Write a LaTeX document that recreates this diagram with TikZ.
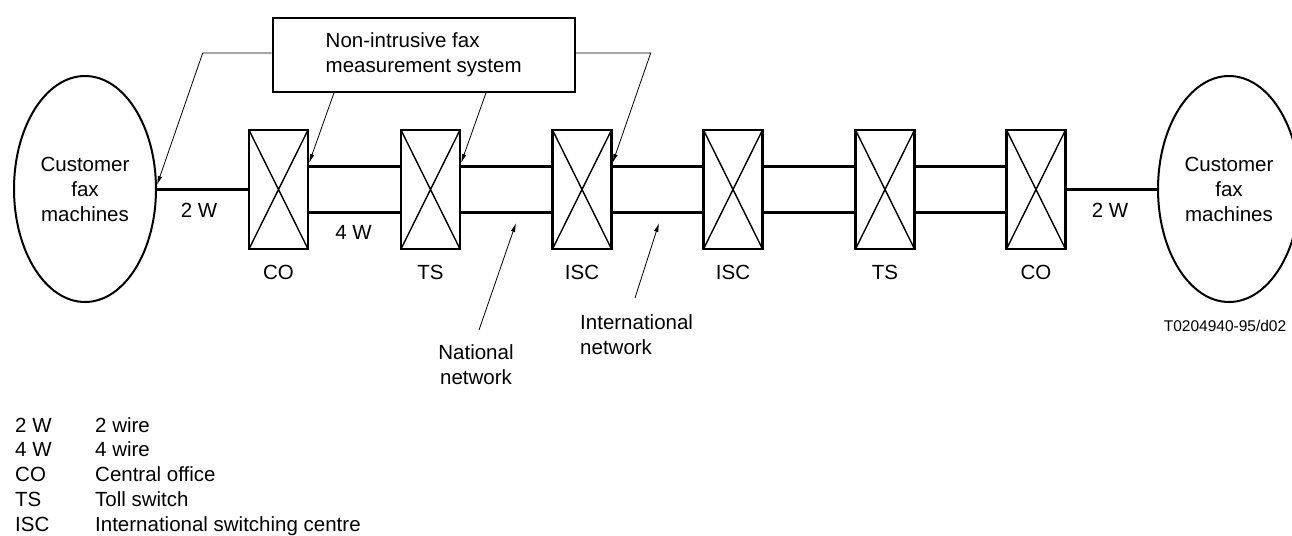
\documentclass[tikz,border=0pt]{standalone}
\usepackage{fontspec}
\setmainfont{Liberation Sans}
\usetikzlibrary{arrows.meta,shapes.geometric}
\begin{document}
\begin{tikzpicture}[x=1pt,y=-1pt,
  txt/.style={font=\fontsize{20.5pt}{25pt}\selectfont, inner sep=0pt, align=center},
  switchbox/.style={draw, line width=2.2pt, minimum width=59pt, minimum height=119pt, inner sep=0pt,
    path picture={\draw[line width=1.4pt]
      (path picture bounding box.north west) -- (path picture bounding box.south east)
      (path picture bounding box.north east) -- (path picture bounding box.south west);}},
  cust/.style={ellipse, draw, line width=2pt, minimum width=142pt, minimum height=226pt, inner sep=0pt, txt},
  wire/.style={line width=3pt},
  leader/.style={line width=0.8pt, -{Latex[length=9pt,width=4.5pt]}},
  frame/.style={draw, line width=2.2pt, minimum width=302pt, minimum height=74pt, txt, align=left}
]
\useasboundingbox (0,0) rectangle (1292,535);
\clip (0,0) rectangle (1292,535);

% customer ellipses
\node[cust] (ellL) at (85,189) {Customer\\fax\\machines};
\node[cust] (ellR) at (1229,189) {Customer\\fax\\machines};

% switches
\node[switchbox] (co1)  at (278.5,189.5) {};
\node[switchbox] (ts1)  at (430.5,189.5) {};
\node[switchbox] (isc1) at (582,189.5) {};
\node[switchbox] (isc2) at (733,189.5) {};
\node[switchbox] (ts2)  at (885,189.5) {};
\node[switchbox] (co2)  at (1036,189.5) {};

% switch labels
\node[txt, anchor=base] (lco1)  at (278.5,279) {CO};
\node[txt, anchor=base] (lts1)  at (430.5,279) {TS};
\node[txt, anchor=base] (lisc1) at (582,279) {ISC};
\node[txt, anchor=base] (lisc2) at (733,279) {ISC};
\node[txt, anchor=base] (lts2)  at (885,279) {TS};
\node[txt, anchor=base] (lco2)  at (1036,279) {CO};

% 2-wire lines
\draw[wire] (co1.west) -- (co1.west -| ellL.east);
\draw[wire] (co2.east) -- (co2.east -| ellR.west);

% 4-wire lines
\foreach \a/\b in {co1/ts1, ts1/isc1, isc1/isc2, isc2/ts2, ts2/co2} {
  \draw[wire] ([yshift=23pt]\a.east) -- ([yshift=23pt]\b.west);
  \draw[wire] ([yshift=-23pt]\a.east) -- ([yshift=-23pt]\b.west);
}

% wire labels
\node[txt, anchor=base] (w2l) at (199,217) {2 W};
\node[txt, anchor=base] (w4)  at (353.5,239) {4 W};
\node[txt, anchor=base] (w2r) at (1110,217) {2 W};

% measurement system
\node[frame] (nims) at (423.7,54.7) {Non-intrusive fax\\measurement system};
\coordinate (k1) at (202.7,53);
\coordinate (k2) at (650.7,53);
\draw[leader] ([yshift=1.7pt]nims.west) -- (k1) -- ([yshift=4pt]ellL.east);
\draw[leader] ([xshift=-89.7pt]nims.south) -- ([yshift=26.5pt]co1.east);
\draw[leader] ([xshift=62.3pt]nims.south) -- ([yshift=26.5pt]ts1.east);
\draw[leader] ([yshift=1.7pt]nims.east) -- (k2) -- ([yshift=26.5pt]isc1.east);

% network labels
\node[txt] (nat) at (476,364.2) {National\\network};
\node[txt, anchor=west, align=left] (intl) at (580,334.2) {International\\network};
\coordinate (natTail) at (479,330);
\coordinate (natTip) at (516,223);
\coordinate (intTail) at (635,298);
\coordinate (intTip) at (659,223);
\draw[leader] (natTail) -- (natTip);
\draw[leader] (intTail) -- (intTip);

% figure tag
\node[font=\fontsize{15.5pt}{18pt}\selectfont, inner sep=0pt, anchor=base] (tag) at (1225,331.5) {T0204940-95/d02};

% legend
\foreach \i/\a/\b in {0/2 W/2 wire, 1/4 W/4 wire, 2/CO/Central office, 3/TS/Toll switch, 4/ISC/International switching centre} {
  \node[txt, anchor=base west] (la\i) at (15,432+24.75*\i) {\a};
  \node[txt, anchor=base west] (lb\i) at (95,432+24.75*\i) {\b};
}
\end{tikzpicture}
\end{document}
